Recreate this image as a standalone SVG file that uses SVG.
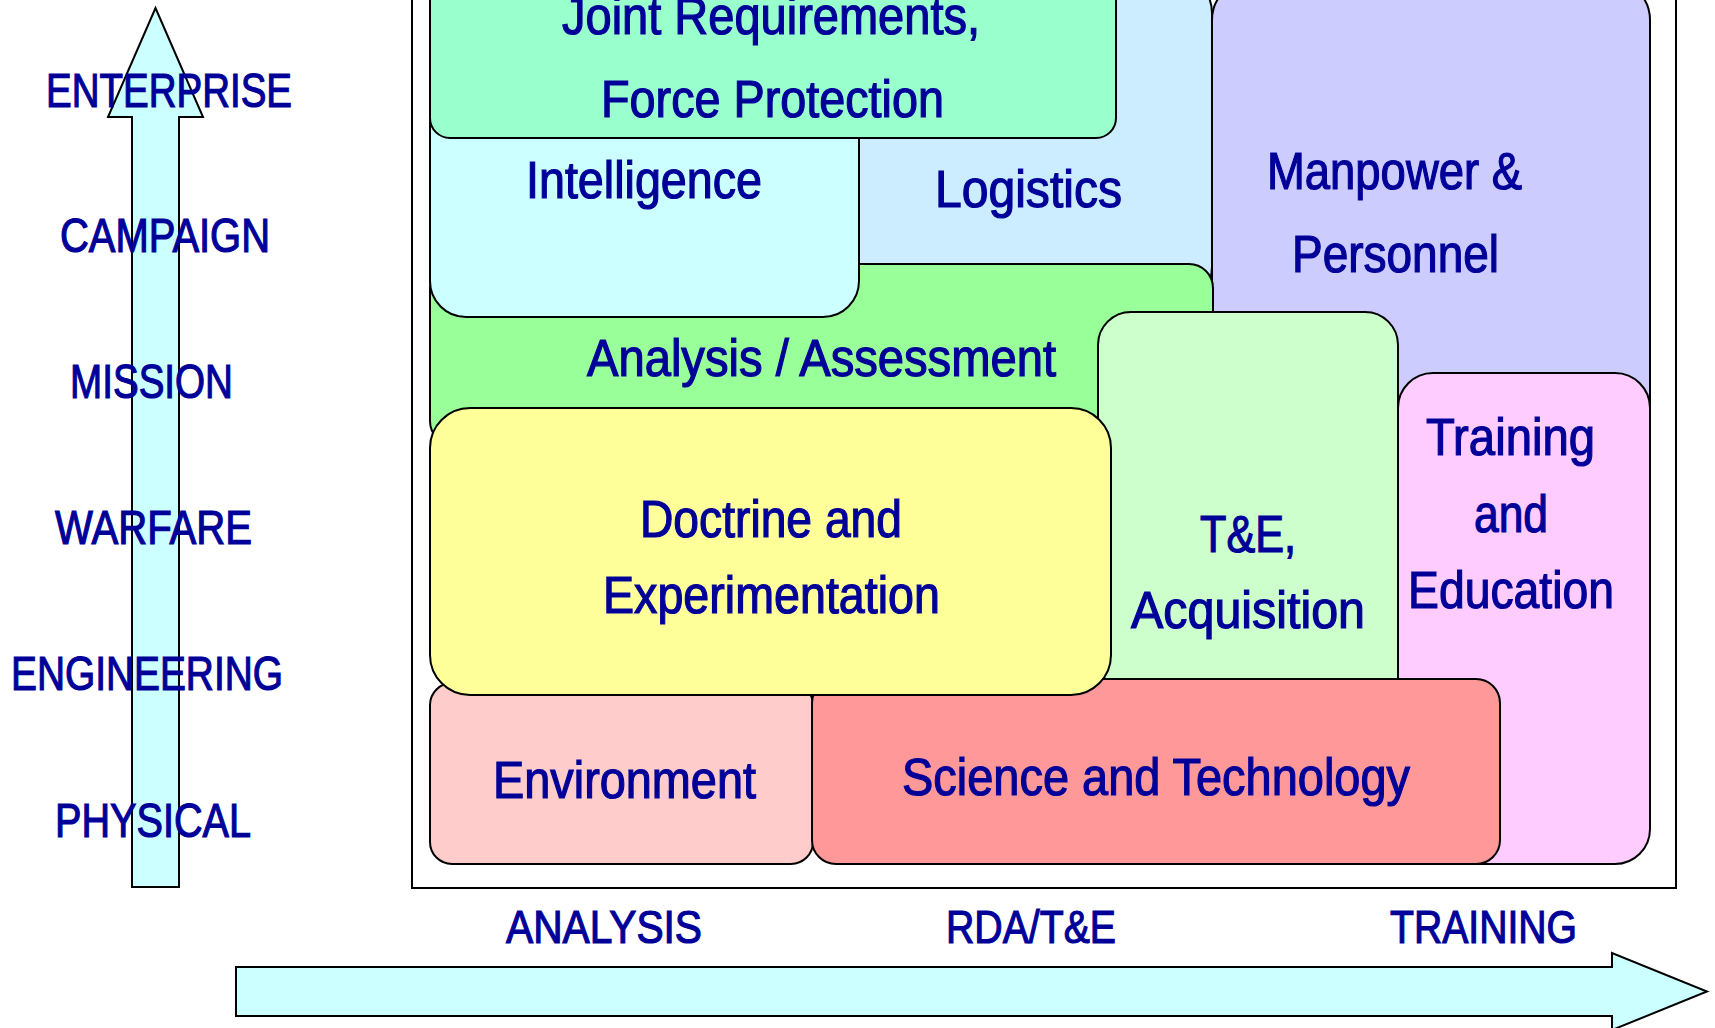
<svg xmlns="http://www.w3.org/2000/svg" width="1715" height="1028" viewBox="0 0 1715 1028">
<style>
.box{stroke:#000;stroke-width:2}
.lbl,.ax,.bx{font-family:"Liberation Sans",Arial,sans-serif;fill:#000099;stroke:#000099;stroke-width:1.2px}
.lbl{font-size:51px}
.ax{font-size:48px}
.bx{font-size:46px}
.arr{fill:#CCFFFF;stroke:#000;stroke-width:2}
</style>
<rect width="1715" height="1028" fill="#fff"/>
<g id="frame"><rect x="412" y="-10" width="1264" height="898" fill="none" stroke="#000" stroke-width="2"/></g>
<g id="connectors">
<polygon class="arr" points="155.5,8 203,117 179,117 179,887 132,887 132,117 108,117"/>
<polygon class="arr" points="236,967 1612,967 1612,953 1707,991.5 1612,1030 1612,1016 236,1016"/>
</g>
<g id="axis-labels">
<text class="ax" x="46" y="107" textLength="246" lengthAdjust="spacingAndGlyphs">ENTERPRISE</text>
<text class="ax" x="60" y="252" textLength="210" lengthAdjust="spacingAndGlyphs">CAMPAIGN</text>
<text class="ax" x="70" y="398" textLength="163" lengthAdjust="spacingAndGlyphs">MISSION</text>
<text class="ax" x="55" y="544" textLength="197" lengthAdjust="spacingAndGlyphs">WARFARE</text>
<text class="ax" x="11" y="690" textLength="272" lengthAdjust="spacingAndGlyphs">ENGINEERING</text>
<text class="ax" x="55" y="837" textLength="196" lengthAdjust="spacingAndGlyphs">PHYSICAL</text>
<text class="bx" x="506" y="943" textLength="196" lengthAdjust="spacingAndGlyphs">ANALYSIS</text>
<text class="bx" x="946" y="943" textLength="170" lengthAdjust="spacingAndGlyphs">RDA/T&amp;E</text>
<text class="bx" x="1390" y="943" textLength="187" lengthAdjust="spacingAndGlyphs">TRAINING</text>
</g>
<g id="manpower">
<rect class="box" x="1212" y="-20" width="438" height="580" rx="40" fill="#CCCCFF"/>
<text class="lbl" x="1267" y="189" textLength="255" lengthAdjust="spacingAndGlyphs">Manpower &amp;</text>
<text class="lbl" x="1292" y="272" textLength="207" lengthAdjust="spacingAndGlyphs">Personnel</text>
</g>
<g id="logistics">
<rect class="box" x="430" y="-25" width="782" height="330" rx="38" fill="#CCECFF"/>
<text class="lbl" x="935" y="207" textLength="187" lengthAdjust="spacingAndGlyphs">Logistics</text>
</g>
<g id="analysis">
<rect class="box" x="430" y="264" width="783" height="181" rx="24" fill="#99FF99"/>
<text class="lbl" x="587" y="376" textLength="469" lengthAdjust="spacingAndGlyphs">Analysis / Assessment</text>
</g>
<g id="intelligence">
<rect class="box" x="430" y="40" width="429" height="277" rx="36" fill="#CCFFFF"/>
<text class="lbl" x="526" y="198" textLength="236" lengthAdjust="spacingAndGlyphs">Intelligence</text>
</g>
<g id="joint">
<rect class="box" x="430" y="-40" width="686" height="178" rx="20" fill="#99FFCC"/>
<text class="lbl" x="562" y="34" textLength="418" lengthAdjust="spacingAndGlyphs">Joint Requirements,</text>
<text class="lbl" x="601" y="117" textLength="343" lengthAdjust="spacingAndGlyphs">Force Protection</text>
</g>
<g id="te">
<rect class="box" x="1098" y="312" width="300" height="430" rx="33" fill="#CCFFCC"/>
<text class="lbl" x="1200" y="552" textLength="96" lengthAdjust="spacingAndGlyphs">T&amp;E,</text>
<text class="lbl" x="1131" y="628" textLength="234" lengthAdjust="spacingAndGlyphs">Acquisition</text>
</g>
<g id="training">
<rect class="box" x="1398" y="373" width="252" height="491" rx="35" fill="#FFCCFF"/>
<text class="lbl" x="1426" y="455" textLength="169" lengthAdjust="spacingAndGlyphs">Training</text>
<text class="lbl" x="1474" y="532" textLength="74" lengthAdjust="spacingAndGlyphs">and</text>
<text class="lbl" x="1408" y="608" textLength="206" lengthAdjust="spacingAndGlyphs">Education</text>
</g>
<g id="environment">
<rect class="box" x="430" y="683" width="383" height="181" rx="22" fill="#FFCCCC"/>
<text class="lbl" x="493" y="798" textLength="263" lengthAdjust="spacingAndGlyphs">Environment</text>
</g>
<g id="science">
<rect class="box" x="812" y="679" width="688" height="185" rx="24" fill="#FF9999"/>
<text class="lbl" x="902" y="795" textLength="508" lengthAdjust="spacingAndGlyphs">Science and Technology</text>
</g>
<g id="doctrine">
<rect class="box" x="430" y="408" width="681" height="287" rx="40" fill="#FFFF99"/>
<text class="lbl" x="640" y="537" textLength="262" lengthAdjust="spacingAndGlyphs">Doctrine and</text>
<text class="lbl" x="603" y="613" textLength="337" lengthAdjust="spacingAndGlyphs">Experimentation</text>
</g>
</svg>
